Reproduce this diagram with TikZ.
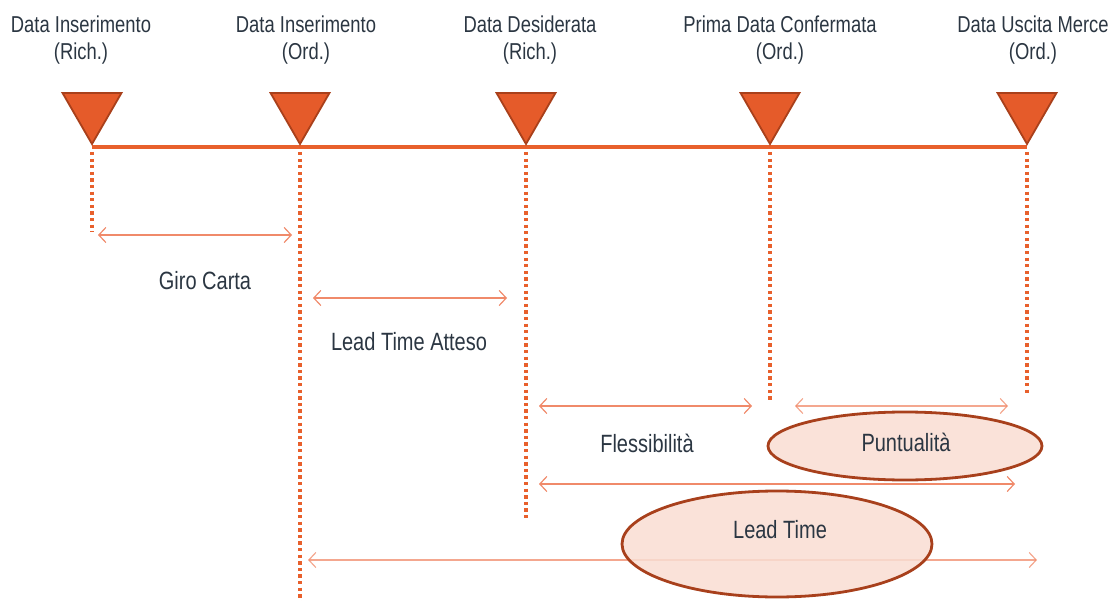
\documentclass[tikz,border=0pt]{standalone}
\usepackage{fontspec}
\setmainfont[FakeStretch=0.8]{Liberation Sans}
\usetikzlibrary{shapes.geometric,arrows.meta}
\definecolor{markfill}{HTML}{E55B2A}
\definecolor{markline}{HTML}{A9401B}
\definecolor{axisc}{HTML}{E8602C}
\definecolor{spanc}{HTML}{F08A6A}
\definecolor{ovalfill}{HTML}{F9DDD2}
\definecolor{ovalline}{HTML}{A8401C}
\definecolor{txt}{HTML}{2B3642}
\begin{document}
\begin{tikzpicture}[x=1pt,y=-1pt,
  marker/.style={regular polygon, regular polygon sides=3, shape border rotate=180,
    minimum size=68pt, inner sep=0pt, outer sep=0pt, anchor=corner 1,
    fill=markfill, draw=markline, line width=1.8pt},
  axis/.style={draw=axisc, line width=4.5pt},
  dots/.style={draw=axisc, line width=3.3pt, dash pattern=on 3.3pt off 3.3pt},
  span/.style={draw=spanc, line width=1.2pt, {Straight Barb[length=7pt,width=15pt]}-{Straight Barb[length=7pt,width=15pt]}},
  datelabel/.style={text=txt, align=center, font=\fontsize{23}{27}\selectfont},
  spanlabel/.style={text=txt, font=\fontsize{25}{28}\selectfont},
  oval/.style={ellipse, fill=ovalfill, fill opacity=0.85, text opacity=1, draw=ovalline, line width=2.8pt, inner sep=0pt}
]
\useasboundingbox (0,0) rectangle (1115,601);

% date labels
\node[datelabel] (l1) at (81,40) {Data Inserimento\\(Rich.)};
\node[datelabel] (l2) at (306,40) {Data Inserimento\\(Ord.)};
\node[datelabel] (l3) at (530,40) {Data Desiderata\\(Rich.)};
\node[datelabel] (l4) at (780,40) {Prima Data Confermata\\(Ord.)};
\node[datelabel] (l5) at (1033,40) {Data Uscita Merce\\(Ord.)};

% timeline
\coordinate (a1) at (92,147);
\coordinate (a5) at (1027,147);
\draw[axis] (a1) -- (a5);

% markers
\node[marker] (m1) at (92,144) {};
\node[marker] (m2) at (300,144) {};
\node[marker] (m3) at (526,144) {};
\node[marker] (m4) at (770,144) {};
\node[marker] (m5) at (1027,144) {};

% dotted drop lines
\coordinate (t1) at (92,152);   \coordinate (b1) at (92,232);
\coordinate (t2) at (300,152);  \coordinate (b2) at (300,601);
\coordinate (t3) at (526,152);  \coordinate (b3) at (526,520);
\coordinate (t4) at (770,152);  \coordinate (b4) at (770,401);
\coordinate (t5) at (1027,152); \coordinate (b5) at (1027,394);
\foreach \i in {1,...,5} \draw[dots] (t\i) -- (b\i);

% spans
\coordinate (s1a) at (98,235);  \coordinate (s1b) at (292,235);
\coordinate (s2a) at (313,298); \coordinate (s2b) at (507,298);
\coordinate (s3a) at (539,406); \coordinate (s3b) at (752,406);
\coordinate (s4a) at (795,406); \coordinate (s4b) at (1008,406);
\coordinate (s5a) at (539,484); \coordinate (s5b) at (1015,484);
\coordinate (s6a) at (308,560); \coordinate (s6b) at (1037,560);

\draw[span] (s1a) -- (s1b);
\draw[span] (s2a) -- (s2b);
\draw[span] (s3a) -- (s3b);
\draw[span, draw opacity=0.75] (s4a) -- (s4b);
\draw[span] (s5a) -- (s5b);
\draw[span, draw opacity=0.75] (s6a) -- (s6b);

\node[spanlabel] (g1) at (205,281) {Giro Carta};
\node[spanlabel] (g2) at (409,342) {Lead Time Atteso};
\node[spanlabel] (g3) at (647,443) {Flessibilità};

% highlighted measures
\node[oval, minimum width=274pt, minimum height=68pt] (pu) at (905,446) {};
\node[spanlabel] (pul) at (906,442) {Puntualità};
\node[oval, minimum width=310pt, minimum height=106pt] (lt) at (777,544) {};
\node[spanlabel] (ltl) at (780,530) {Lead Time};
\end{tikzpicture}
\end{document}
